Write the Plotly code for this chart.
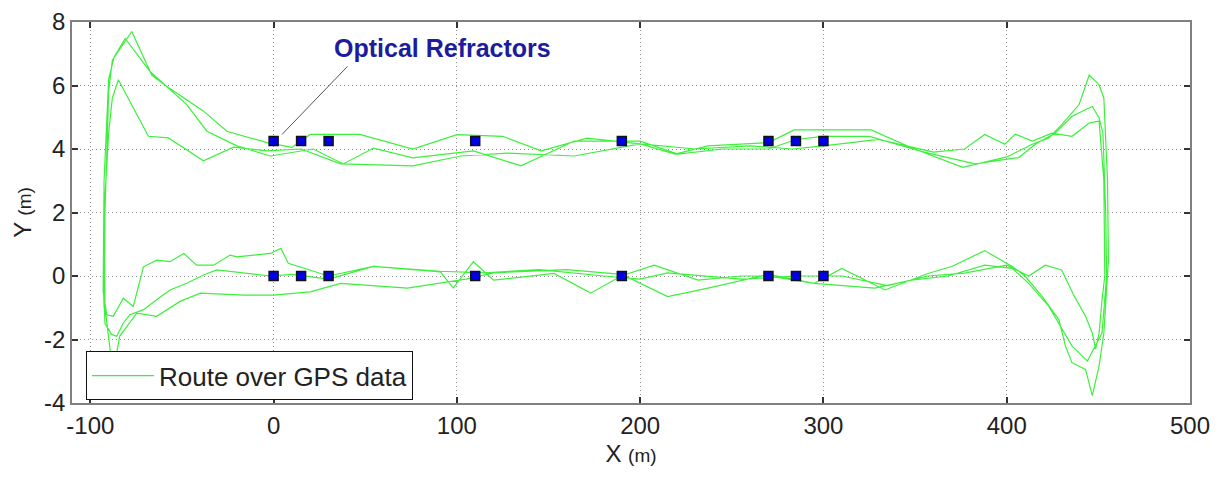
import plotly.graph_objects as go

# ---- GPS route, three laps (x in m, y in m) ----
lap1_x = [-92.5, -92, -90, -88, -77.4, -66.5, -59, -38.4, -25.5, -3.6, 10, 20, 47, 76, 100, 125, 146, 171, 200, 219,
          237, 270, 284, 326, 348, 376, 400, 414, 423, 430, 439.5, 445, 450.4, 453, 455, 455.5, 453, 450.4, 446.7, 443,
          435.6, 432, 428.5, 419.4, 410, 403, 388, 370, 357, 333.6, 310, 295, 270, 255, 231.6, 207.6, 189.6, 173, 153, 120,
          109, 98, 91, 54.5, 30, 8, 4, -1.8, -20, -23.7, -32.8, -42, -49, -56.5, -63.8, -71, -74.7, -76.6, -82, -87.5, -91]
lap1_y = [-1.0, 2.0, 5.8, 6.8, 7.7, 6.33, 6.0, 5.2, 4.56, 4.2, 4.05, 4.46, 4.46, 4.0, 4.45, 4.4, 3.94, 4.34, 4.16, 3.84,
          4.1, 4.2, 4.6, 4.6, 4.04, 3.42, 3.75, 4.15, 4.35, 4.77, 5.4, 6.33, 6.02, 5.6, 3.0, 0.5, -1.8, -2.83, -3.77, -2.94,
          -2.73, -2.2, -1.38, -0.65, 0.0, 0.3, 0.8, 0.3, 0.08, -0.44, 0.24, -0.23, 0.0, 0.0, -0.13, 0.34, 0.0, -0.54, 0.08, -0.13,
          0.45, -0.38, 0.13, 0.3, 0.0, 0.4, 0.87, 0.71, 0.6, 0.66, 0.34, 0.34, 0.71, 0.45, 0.5, 0.29, -0.54, -0.96, -0.7, -1.27, -1.22]

lap2_x = [-93, -92.5, -90, -87, -81, -67.4, -47.4, -36.4, -20, -1.8, 10, 21.7, 38, 54.5, 76, 109, 135, 164, 200, 220.6,
          245, 270, 285, 300, 325, 355, 382.6, 406.6, 415.6, 426.5, 435.6, 446.7, 450.4, 452.5, 454, 454.5, 452, 448.5, 444, 435.6,
          428.5, 423, 412, 403, 388, 368, 348, 328, 295, 270, 237, 215, 190, 160, 120, 105, 73, 36.5, 20, 0,
          -16.4, -40, -51, -63.8, -74.7, -84, -85.6, -89, -92]
lap2_y = [-0.5, 3.0, 6.2, 6.9, 7.48, 6.44, 5.4, 4.56, 4.1, 3.78, 3.9, 4.0, 3.53, 4.03, 3.72, 3.94, 3.47, 4.25, 4.25, 3.84,
          4.0, 4.0, 4.3, 4.4, 4.4, 3.9, 3.53, 3.73, 4.15, 4.5, 5.03, 5.34, 4.98, 4.5, 2.0, 0.0, -1.8, -2.2, -2.68, -2.2,
          -1.48, -0.96, -0.23, 0.24, 0.34, 0.0, -0.13, -0.38, -0.23, 0.05, -0.38, -0.65, 0.05, 0.2, 0.1, -0.1, -0.38, -0.23, -0.5, -0.6,
          -0.6, -0.54, -0.8, -1.27, -1.17, -1.9, -2.42, -2.42, -1.0]

lap3_x = [-92.5, -90, -88, -84.7, -77.4, -68.3, -57.4, -38.3, -21.9, -3.6, 15, 36.5, 76, 102, 127.6, 164, 200, 230, 260, 283,
          300, 330, 360, 377, 388, 399, 404.6, 414, 424.7, 435.6, 445, 450.4, 453, 453.5, 452, 450.4, 448.5, 446.7, 443, 437,
          430, 421, 412, 400, 377, 357, 335, 310, 285, 255, 215, 200, 180, 145, 115, 91, 54.5, 30, 10, -1.8,
          -31, -38.3, -47.4, -56.5, -63.8, -71, -78.4, -82, -85.6, -88.4, -92, -93]
lap3_y = [2.0, 4.5, 5.6, 6.18, 5.4, 4.4, 4.35, 3.63, 4.06, 3.94, 4.0, 3.53, 3.47, 3.78, 3.87, 3.78, 4.16, 4.0, 4.1, 4.0,
          4.1, 4.3, 3.9, 4.0, 4.46, 4.15, 4.47, 4.25, 4.5, 4.4, 4.82, 4.88, 3.0, 0.0, -0.75, -1.8, -2.3, -1.8, -1.27, -0.65,
          0.19, 0.34, 0.0, 0.34, 0.09, 0.0, -0.3, 0.0, 0.0, -0.1, 0.1, -0.1, 0.0, 0.2, 0.1, 0.15, 0.3, -0.1, 0.05, 0.0,
          0.19, 0.03, -0.23, -0.44, -0.75, -1.06, -1.22, -1.48, -1.9, -1.84, -1.5, 0.0]

# ---- Optical refractors ----
refractor_x = [0, 15, 30, 110, 190, 270, 285, 300]
refractor_rows_y = [4.25, 0.0]

x_tickvals = [-100, 0, 100, 200, 300, 400, 500]
x_ticktext = ["-100", "0", "100", "200", "300", "400", "500"]
y_tickvals = [-4, -2, 0, 2, 4, 6, 8]
y_ticktext = ["-4", "-2", "0", "2", "4", "6", "8"]

route_x = lap1_x + lap2_x + lap3_x + [lap1_x[0]]
route_y = lap1_y + lap2_y + lap3_y + [lap1_y[0]]

mk_x = [x for _ in refractor_rows_y for x in refractor_x]
mk_y = [y for y in refractor_rows_y for _ in refractor_x]

FONT = "Liberation Sans, Arial, sans-serif"
TXT = "#222222"

fig = go.Figure()
fig.add_trace(go.Scatter(x=route_x, y=route_y, mode="lines", name="Route over GPS data",
                         line=dict(color="#3cf03c", width=1.2)))
fig.add_trace(go.Scatter(x=mk_x, y=mk_y, mode="markers", showlegend=False,
                         marker=dict(symbol="square", size=9, color="#0000e6",
                                     line=dict(color="#111111", width=1.5))))

fig.add_annotation(x=92, y=7.19, xref="x", yref="y", text="<b>Optical Refractors</b>", showarrow=False,
                   font=dict(family=FONT, size=25, color="#1c1c9c"))
fig.add_shape(type="line", x0=40.3, y0=6.6, x1=4.6, y1=4.46, xref="x", yref="y",
              line=dict(color="#555555", width=1))

axis_common = dict(showline=True, linecolor="#808080", linewidth=1.5, mirror="ticks",
                   ticks="inside", ticklen=6, tickcolor="#333333", tickwidth=1.5,
                   showgrid=True, gridcolor="#8c8c8c", griddash="1px,3px", gridwidth=1.2,
                   zeroline=False, automargin=False,
                   tickfont=dict(family=FONT, size=24, color=TXT))

fig.update_xaxes(range=[-110, 500], tickvals=x_tickvals, ticktext=x_ticktext,
                 title=dict(text="X <span style='font-size:19px'>(m)</span>",
                            font=dict(family=FONT, size=24, color=TXT), standoff=8),
                 **axis_common)
fig.update_yaxes(range=[-4, 8], tickvals=y_tickvals, ticktext=y_ticktext,
                 title=dict(text="Y <span style='font-size:19px'>(m)</span>",
                            font=dict(family=FONT, size=24, color=TXT), standoff=6),
                 **axis_common)

# page body has an 8px margin, so the figure is sized/offset to fit the 1223x479 window
fig.update_layout(width=1207, height=463, margin=dict(l=64, r=25, t=14, b=68),
                  plot_bgcolor="white", paper_bgcolor="white",
                  legend=dict(x=0.0125, y=0.136, xanchor="left", yanchor="top",
                              bgcolor="white", bordercolor="#111111", borderwidth=1,
                              font=dict(family=FONT, size=26, color=TXT),
                              itemwidth=62))

fig.write_html("out.html")
